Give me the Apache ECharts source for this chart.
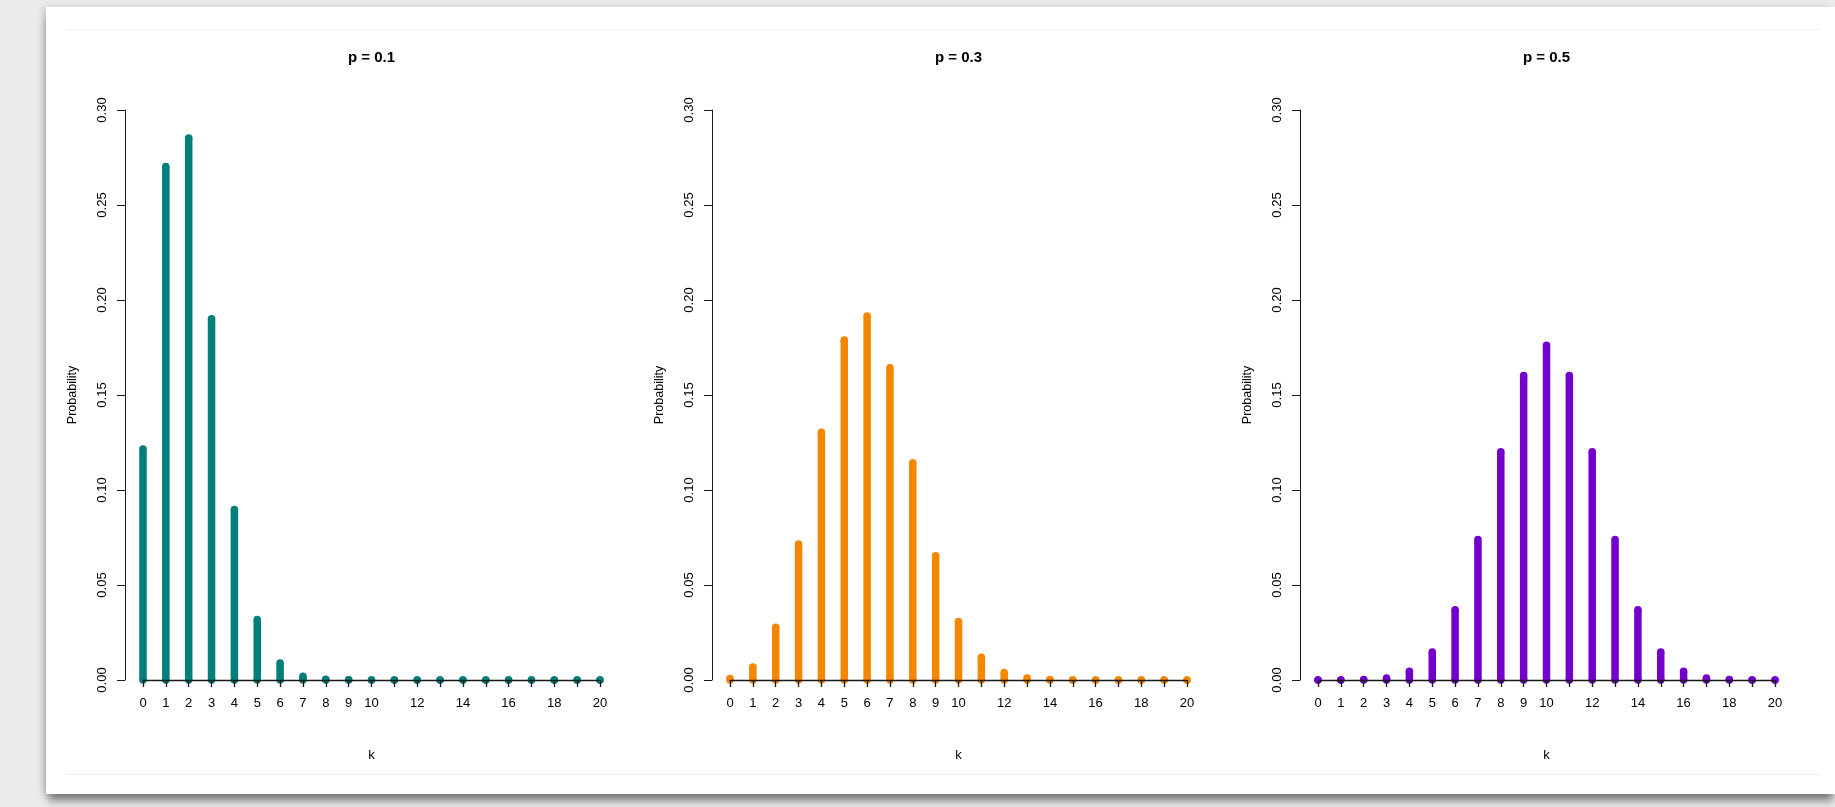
<!DOCTYPE html>
<html><head><meta charset="utf-8">
<script src="https://cdn.jsdelivr.net/npm/echarts@6/dist/echarts.min.js"></script>
<style>
html,body{margin:0;padding:0;width:1835px;height:807px;overflow:hidden;background:#ebebeb;}
#card{position:absolute;left:46px;top:7px;width:1789px;height:787px;background:#fff;box-shadow:0 9px 8px -2px rgba(0,0,0,0.45),-4px 0 6px rgba(0,0,0,0.12);}
.rule{position:absolute;left:67px;width:1753px;height:1px;background:#f0f0f0;}
#chart{position:absolute;left:0;top:0;width:1835px;height:807px;}
</style></head><body>
<div id="card"></div>
<div class="rule" style="top:29px"></div>
<div class="rule" style="top:774px"></div>
<div id="chart"></div>
<script>
const kValues = [0,1,2,3,4,5,6,7,8,9,10,11,12,13,14,15,16,17,18,19,20];
const probP01 = [0.1216,0.2702,0.2852,0.1901,0.0898,0.0319,0.0089,0.0020,0.0004,0.0001,0.0000,0.0000,0.0000,0.0000,0.0000,0.0000,0.0000,0.0000,0.0000,0.0000,0.0000];
const probP03 = [0.0008,0.0068,0.0278,0.0716,0.1304,0.1789,0.1916,0.1643,0.1144,0.0654,0.0308,0.0120,0.0039,0.0010,0.0002,0.0000,0.0000,0.0000,0.0000,0.0000,0.0000];
const probP05 = [0.0000,0.0000,0.0002,0.0011,0.0046,0.0148,0.0370,0.0739,0.1201,0.1602,0.1762,0.1602,0.1201,0.0739,0.0370,0.0148,0.0046,0.0011,0.0002,0.0000,0.0000];
const panelTitles = ['p = 0.1','p = 0.3','p = 0.5'];
const panelColors = ['#007f7b','#f58700','#7300cc'];
const xTickLabels = [0,1,2,3,4,5,6,7,8,9,10,12,14,16,18,20];
const yTickLabels = ['0.00','0.05','0.10','0.15','0.20','0.25','0.30'];

const panelSeries = [probP01, probP03, probP05];
const gridLefts = [143, 730, 1318];
const FONT = 'Liberation Sans, Arial, Helvetica, sans-serif';
const AX = '#1a1a1a';

const chart = echarts.init(document.getElementById('chart'), null, {renderer:'canvas'});
const option = {
  backgroundColor: 'transparent',
  animation: false,
  textStyle: {fontFamily: FONT},
  title: [], grid: [], xAxis: [], yAxis: [], series: []
};
panelSeries.forEach((vals, i) => {
  const left = gridLefts[i];
  option.title.push({
    text: panelTitles[i], left: left - 18 + 493/2, top: 50, textAlign: 'center', padding: 0,
    textStyle: {fontFamily: FONT, fontSize: 15, fontWeight: 'bold', color: '#000'}
  });
  option.grid.push({left: left, top: 110, width: 457, height: 570, containLabel: false});
  option.xAxis.push({
    type: 'value', gridIndex: i, min: 0, max: 20, interval: 1, z: 5,
    name: 'k', nameLocation: 'middle', nameGap: 69,
    nameTextStyle: {fontFamily: FONT, fontSize: 13, color: '#000'},
    axisLine: {show: true, onZero: false, lineStyle: {color: AX, width: 1.3}},
    axisTick: {show: true, inside: false, length: 7, lineStyle: {color: AX, width: 1.3}},
    axisLabel: {show: true, margin: 17, fontFamily: FONT, fontSize: 13, color: '#000',
      formatter: v => xTickLabels.indexOf(Math.round(v)) >= 0 ? String(Math.round(v)) : ''},
    splitLine: {show: false}
  });
  option.yAxis.push({
    type: 'value', gridIndex: i, min: 0, max: 0.3, interval: 0.05, offset: 18, z: 5,
    name: 'Probability', nameLocation: 'middle', nameGap: 46, nameRotate: 90,
    nameTextStyle: {fontFamily: FONT, fontSize: 12.5, color: '#000'},
    axisLine: {show: true, onZero: false, lineStyle: {color: AX, width: 1}},
    axisTick: {show: true, inside: false, length: 8, lineStyle: {color: AX, width: 1}},
    axisLabel: {show: true, rotate: 90, margin: 16, fontFamily: FONT, fontSize: 13, color: '#000',
      formatter: v => yTickLabels[Math.round(v / 0.05)]},
    splitLine: {show: false}
  });
  option.series.push({
    type: 'custom', xAxisIndex: i, yAxisIndex: i, z: 2, clip: false,
    data: kValues.map((k, j) => [k, vals[j]]),
    renderItem: (params, api) => {
      const p0 = api.coord([api.value(0), 0]);
      const p1 = api.coord([api.value(0), api.value(1)]);
      const c = panelColors[i];
      return {
        type: 'group',
        children: [
          {type: 'line', shape: {x1: p0[0], y1: p0[1], x2: p1[0], y2: p1[1]}, style: {stroke: c, lineWidth: 7.5, lineCap: 'butt'}},
          {type: 'circle', shape: {cx: p0[0], cy: p0[1], r: 3.75}, style: {fill: c}},
          {type: 'circle', shape: {cx: p1[0], cy: p1[1], r: 3.75}, style: {fill: c}}
        ]
      };
    }
  });
});
chart.setOption(option);
</script>
</body></html>
